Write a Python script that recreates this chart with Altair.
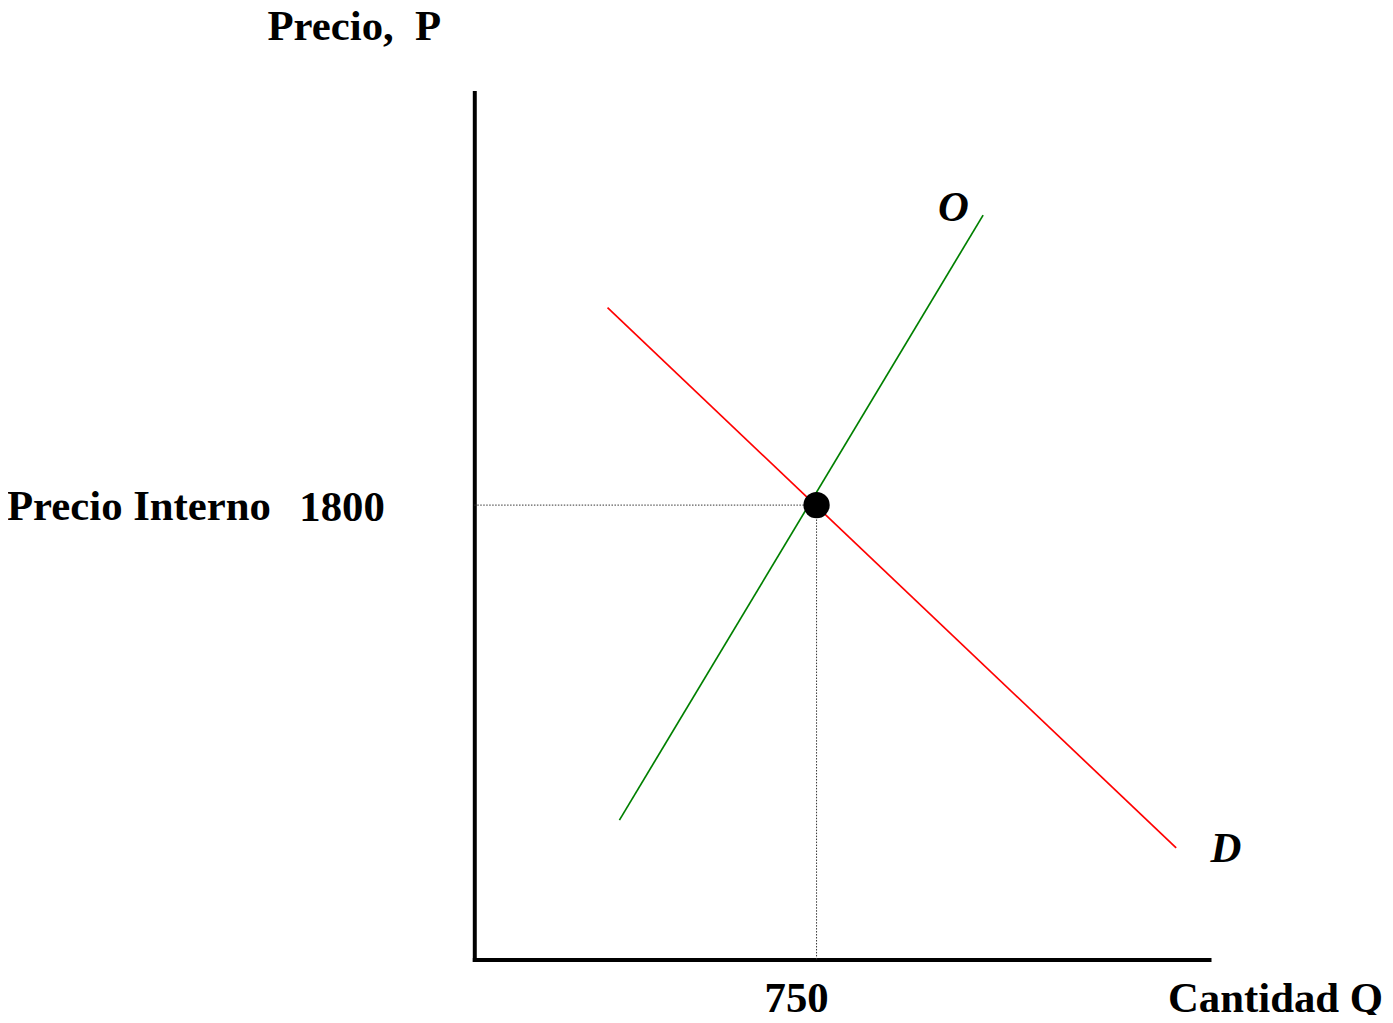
import altair as alt
import pandas as pd

# ---- data ----
supply_q = [318, 1115]
supply_p = [552, 2949]
demand_q = [292, 1538]
demand_p = [2582, 442]
eq_q = [750]
eq_p = [1800]

title_y = "Precio,\u00a0\u00a0P"
title_x = "Cantidad Q"
p_prefix = "Precio Interno"
p_label = "1800"
q_label = "750"
supply_label = "O"
demand_label = "D"

FONT = "Liberation Serif"
FS = 43

X = alt.Scale(domain=[0, 1610], nice=False, zero=False)
Y = alt.Scale(domain=[0, 3435], nice=False, zero=False)
ax = alt.Axis(title=None, labels=False, ticks=False, grid=False,
              domainWidth=4, domainColor="black", domainCap="square")

supply = pd.DataFrame({"Q": supply_q, "P": supply_p})
demand = pd.DataFrame({"Q": demand_q, "P": demand_p})
eq = pd.DataFrame({"Q": eq_q, "P": eq_p, "Q0": [0], "P0": [0]})

s_line = alt.Chart(supply).mark_line(color="#008000", strokeWidth=1.7, clip=False).encode(
    x=alt.X("Q:Q", scale=X, axis=ax), y=alt.Y("P:Q", scale=Y, axis=ax))
d_line = alt.Chart(demand).mark_line(color="#ff0000", strokeWidth=1.7, clip=False).encode(
    x=alt.X("Q:Q", scale=X), y=alt.Y("P:Q", scale=Y))

h_dot = alt.Chart(eq).mark_rule(color="#333333", strokeWidth=1, strokeDash=[1.5, 1.5]).encode(
    x=alt.X("Q0:Q", scale=X), x2="Q:Q", y=alt.Y("P:Q", scale=Y))
v_dot = alt.Chart(eq).mark_rule(color="#333333", strokeWidth=1, strokeDash=[1.5, 1.5]).encode(
    x=alt.X("Q:Q", scale=X), y=alt.Y("P0:Q", scale=Y), y2="P:Q")

point = alt.Chart(eq).mark_circle(size=700, color="black", opacity=1).encode(
    x=alt.X("Q:Q", scale=X), y=alt.Y("P:Q", scale=Y))


def label(text, x, y, align="left", style="normal"):
    df = pd.DataFrame({"t": [text]})
    return alt.Chart(df).mark_text(
        font=FONT, fontSize=FS, fontWeight="bold", fontStyle=style,
        align=align, baseline="alphabetic", color="black"
    ).encode(text="t:N", x=alt.value(x), y=alt.value(y))


p_lab = alt.Chart(eq.assign(t=p_label)).mark_text(
    font=FONT, fontSize=FS, fontWeight="bold", align="right", baseline="alphabetic", dy=16
).encode(text="t:N", x=alt.value(-90), y=alt.Y("P:Q", scale=Y))
q_lab = alt.Chart(eq.assign(t=q_label)).mark_text(
    font=FONT, fontSize=FS, fontWeight="bold", align="center", baseline="alphabetic", dx=-20
).encode(text="t:N", x=alt.X("Q:Q", scale=X), y=alt.value(925))

chart = alt.layer(
    h_dot, v_dot, s_line, d_line, point,
    label(title_y, -208, -53),
    label(p_prefix, -470, 430),
    p_lab, q_lab,
    label(title_x, 914, 925, align="right"),
    label(supply_label, 482, 129, align="center", style="italic"),
    label(demand_label, 756, 774, align="center", style="italic"),
).properties(
    width=739, height=872,
    autosize=alt.AutoSizeParams(type="none"),
    padding={"left": 469, "top": 82, "right": 177, "bottom": 53},
).configure_view(stroke=None)

chart.save("out.html", embed_options={"renderer": "svg", "actions": False})
